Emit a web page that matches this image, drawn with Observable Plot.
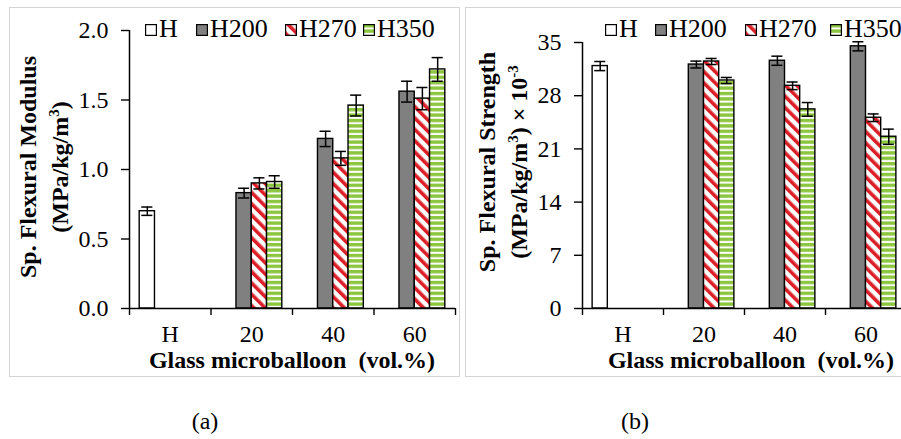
<!DOCTYPE html>
<html><head><meta charset="utf-8">
<script src="https://cdn.jsdelivr.net/npm/d3@7"></script>
<script src="https://cdn.jsdelivr.net/npm/@observablehq/plot@0.6"></script>
<style>
html,body{margin:0;padding:0;background:#fff;width:901px;height:439px;overflow:hidden;}
body{position:relative;font-family:"Liberation Serif","Times New Roman",serif;color:#000;}
.panel{position:absolute;top:7px;height:370px;border:1.5px solid #d4d4d4;box-sizing:border-box;}
.chart{position:absolute;top:0;width:460px;height:380px;}
.chart svg{max-width:none;}
.legtext{position:absolute;top:16px;font-size:26px;line-height:26px;white-space:nowrap;}
.sw{position:absolute;top:24px;width:12px;height:12px;}
.ytitle{position:absolute;width:320px;height:64px;line-height:32px;font-size:24px;font-weight:bold;text-align:center;transform:rotate(-90deg);white-space:nowrap;}
.sup{font-size:15px;line-height:0;vertical-align:9px;}
.xtitle{position:absolute;top:348px;font-size:24px;line-height:24px;font-weight:bold;white-space:pre;transform:translateX(-50%);}
.cap{position:absolute;top:409px;font-size:24px;line-height:24px;transform:translateX(-50%);}
</style>
</head>
<body>
<svg width="0" height="0" style="position:absolute">
  <defs>
    <pattern id="hatch270" patternUnits="userSpaceOnUse" width="8" height="8" patternTransform="rotate(-45)">
      <rect width="8" height="8" fill="#ffffff"></rect>
      <rect width="3.6" height="8" fill="#dc1f26"></rect>
    </pattern>
    <pattern id="hatch350" patternUnits="userSpaceOnUse" width="6" height="5.4">
      <rect width="6" height="5.4" fill="#ffffff"></rect>
      <rect width="6" height="3.4" fill="#8cc63f"></rect>
    </pattern>
  </defs>
</svg>
<div class="panel" style="left:9px;width:451px;"></div>
<div class="panel" style="left:465px;width:500px;"></div>
<div id="chartA" class="chart" style="left:0px;"></div>
<div id="chartB" class="chart" style="left:460px;"></div>
<div id="legends"></div>
<div class="ytitle" style="left:-116px;top:135px;">Sp. Flexural Modulus<br>(MPa/kg/m<span class="sup">3</span>)</div>
<div class="ytitle" style="left:343px;top:130px;">Sp. Flexural Strength<br>(MPa/kg/m<span class="sup">3</span>) × 10<span class="sup">-3</span></div>
<div class="xtitle" style="left:292px;">Glass microballoon  (vol.%)</div>
<div class="xtitle" style="left:751px;">Glass microballoon  (vol.%)</div>
<div class="cap" style="left:205px;">(a)</div>
<div class="cap" style="left:635px;">(b)</div>
<script>
// ---- data ----
const categories = ["H", "20", "40", "60"];
const series = ["H", "H200", "H270", "H350"];
const seriesCategories = [["H"], ["20", "40", "60"], ["20", "40", "60"], ["20", "40", "60"]];

// (a) specific flexural modulus, MPa/(kg/m3)
const modulusH = [0.70];
const modulusHErr = [0.03];
const modulusH200 = [0.83, 1.22, 1.56];
const modulusH200Err = [0.035, 0.055, 0.075];
const modulusH270 = [0.90, 1.08, 1.51];
const modulusH270Err = [0.04, 0.05, 0.08];
const modulusH350 = [0.91, 1.46, 1.72];
const modulusH350Err = [0.045, 0.075, 0.085];

// (b) specific flexural strength, MPa/(kg/m3) x 10^-3
const strengthH = [31.9];
const strengthHErr = [0.6];
const strengthH200 = [32.1, 32.6, 34.5];
const strengthH200Err = [0.45, 0.6, 0.6];
const strengthH270 = [32.5, 29.3, 25.1];
const strengthH270Err = [0.4, 0.5, 0.5];
const strengthH350 = [30.0, 26.2, 22.6];
const strengthH350Err = [0.4, 0.9, 1.0];

const modulusTicks = [0, 0.5, 1.0, 1.5, 2.0];
const strengthTicks = [0, 7, 14, 21, 28, 35];

// ---- styles ----
const seriesFills = ["#ffffff", "#808080", "url(#hatch270)", "url(#hatch350)"];
const groupFrac = 0.75;
const slot = groupFrac / series.length;
const pad = (1 - groupFrac) / 2;
const capHalf = 0.068;

function buildRows(values, errs) {
  const rows = [];
  series.forEach((s, si) => {
    seriesCategories[si].forEach((c, k) => {
      const ci = categories.indexOf(c);
      const x1 = ci + pad + si * slot;
      rows.push({series: s, category: c, v: values[si][k], e: errs[si][k], x1, x2: x1 + slot, xc: x1 + slot / 2});
    });
  });
  return rows;
}

function panel(rows, {yDomain, yTicks, tickFormat, marginLeft, marginRight, marginTop}) {
  return Plot.plot({
    width: 460,
    height: 380,
    marginLeft, marginRight, marginTop,
    marginBottom: 72,
    style: {fontFamily: "'Liberation Serif', 'Times New Roman', serif", fontSize: "24px", color: "#000", background: "transparent", overflow: "visible"},
    x: {domain: [0, categories.length]},
    y: {domain: yDomain},
    color: {domain: series, range: seriesFills},
    marks: [
      Plot.rect(rows, {x1: "x1", x2: "x2", y1: 0, y2: "v", fill: "series", stroke: "#000", strokeWidth: 1.4}),
      Plot.ruleX(rows, {x: "xc", y1: d => d.v - d.e, y2: d => d.v + d.e, stroke: "#000", strokeWidth: 1.5}),
      Plot.ruleY(rows, {y: d => d.v + d.e, x1: d => d.xc - capHalf, x2: d => d.xc + capHalf, stroke: "#000", strokeWidth: 1.5}),
      Plot.ruleY(rows, {y: d => d.v - d.e, x1: d => d.xc - capHalf, x2: d => d.xc + capHalf, stroke: "#000", strokeWidth: 1.5}),
      Plot.ruleY([0], {stroke: "#000", strokeWidth: 1.5}),
      Plot.ruleX([0], {stroke: "#000", strokeWidth: 1.5}),
      Plot.axisY({ticks: yTicks, tickSize: 8, tickPadding: 13, tickFormat, label: null, strokeWidth: 1.4}),
      Plot.axisX({ticks: d3.range(categories.length + 1), tickSize: 7, tickFormat: () => "", label: null, strokeWidth: 1.4}),
      Plot.axisX({ticks: categories.map((c, i) => i + 0.5), tickSize: 0, tickPadding: 16, tickFormat: d => categories[Math.floor(d)], label: null})
    ]
  });
}

const rowsA = buildRows(
  [modulusH, modulusH200, modulusH270, modulusH350],
  [modulusHErr, modulusH200Err, modulusH270Err, modulusH350Err]);
const rowsB = buildRows(
  [strengthH, strengthH200, strengthH270, strengthH350],
  [strengthHErr, strengthH200Err, strengthH270Err, strengthH350Err]);

document.getElementById("chartA").append(panel(rowsA, {
  yDomain: [0, 2], yTicks: modulusTicks, tickFormat: d3.format(".1f"),
  marginLeft: 129, marginRight: 5, marginTop: 30
}));
document.getElementById("chartB").append(panel(rowsB, {
  yDomain: [0, 35], yTicks: strengthTicks, tickFormat: d3.format("d"),
  marginLeft: 122, marginRight: 14, marginTop: 42
}));

// legends
const legendX = [[145, 196, 285, 363], [605, 655, 745, 830]];
const legends = document.getElementById("legends");
legendX.forEach(xs => {
  series.forEach((s, i) => {
    const sw = document.createElementNS("http://www.w3.org/2000/svg", "svg");
    sw.setAttribute("class", "sw");
    sw.setAttribute("width", 12); sw.setAttribute("height", 12);
    sw.style.left = xs[i] + "px";
    const r = document.createElementNS("http://www.w3.org/2000/svg", "rect");
    r.setAttribute("x", 0.6); r.setAttribute("y", 0.6);
    r.setAttribute("width", 10.8); r.setAttribute("height", 10.8);
    r.setAttribute("fill", seriesFills[i]);
    r.setAttribute("stroke", "#000"); r.setAttribute("stroke-width", 1.2);
    sw.append(r);
    legends.append(sw);
    const t = document.createElement("div");
    t.className = "legtext";
    t.style.left = (xs[i] + 14) + "px";
    t.textContent = s;
    legends.append(t);
  });
});
</script>
</body></html>
